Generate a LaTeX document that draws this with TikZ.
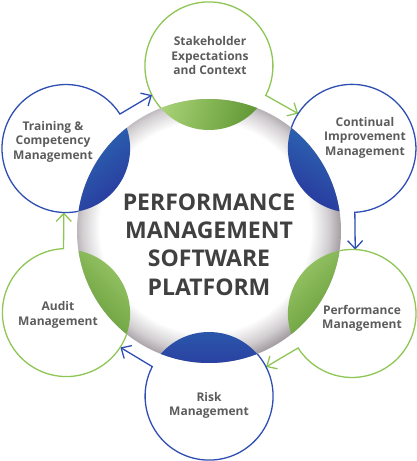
\documentclass[tikz,border=0pt]{standalone}
\usepackage{fontspec}
\setmainfont{Open Sans}
\usetikzlibrary{arrows.meta}
\definecolor{grnline}{RGB}{141,198,85}
\definecolor{bluline}{RGB}{45,78,178}
\definecolor{grnlight}{RGB}{170,212,120}
\definecolor{grndark}{RGB}{92,148,48}
\definecolor{blulight}{RGB}{44,110,180}
\definecolor{bludark}{RGB}{40,42,152}
\definecolor{rimgray}{RGB}{166,159,164}
\definecolor{sattext}{RGB}{92,92,92}
\definecolor{maintext}{RGB}{64,64,64}
\pgfdeclareradialshading{rimshade}{\pgfpoint{-1.2bp}{1.2bp}}{color(0bp)=(white); color(20bp)=(white); color(23.3bp)=(rimgray!50); color(25.5bp)=(rimgray); color(50bp)=(rimgray)}
\begin{document}
\begin{tikzpicture}[x=1pt,y=1pt,line width=1.3pt,
  sat/.style={circle,minimum size=128pt,inner sep=0pt,outer sep=0pt},
  sattxt/.style={align=center,font=\fontsize{12}{14.5}\selectfont\bfseries,text=sattext,inner sep=0pt},
  maintxt/.style={align=center,font=\fontsize{23}{28.4}\selectfont\bfseries,text=maintext,inner sep=0pt},
  tail/.style={line join=miter,-{Straight Barb[length=8pt,width=15pt]}}]
\useasboundingbox (-209,-230) rectangle (208,231);
% satellite anchors
\foreach \n/\a in {1/90,2/30,3/-30,4/-90,5/-150,6/150}
  \node[sat] (s\n) at (\a:165) {};
% core circle
\shade[shading=rimshade] (0,0) circle (132);
\node[circle,minimum size=264pt,inner sep=0pt,outer sep=0pt] (core) at (0,0) {};
% lenses
\foreach \n/\a/\c/\sa in {1/90/grn/75,2/30/blu/-30,3/-30/grn/45,4/-90/blu/0,5/-150/grn/-45,6/150/blu/40}
  {
  \begin{scope}
    \clip (0,0) circle (132);
    \clip (s\n) circle (64);
    \shade[left color=\c light,right color=\c dark,shading angle=\sa] (\a:116.5) circle (50);
  \end{scope}
  }
% outlines with tails
\foreach \n/\m/\a/\c in {1/2/90/grnline,2/3/30/bluline,3/4/-30/grnline,4/5/-90/bluline,5/6/-150/grnline,6/1/150/bluline}
  {
  \pgfmathsetmacro{\sa}{\a+131.1}
  \pgfmathsetmacro{\ea}{\a-117.4}
  \pgfmathsetmacro{\ta}{\a+57.9}
  \draw[\c,tail] (s\n.\sa) arc[start angle=\sa,end angle=\ea,radius=64] -- (s\m.\ta);
  }
% texts
\node[sattxt] (t1) at (1,175) {Stakeholder\\Expectations\\and Context};
\node[sattxt] (t2) at (156,93.5) {Continual\\Improvement\\Management};
\node[sattxt] (t3) at (153,-87.3) {Performance\\Management};
\node[sattxt] (t4) at (0,-174.3) {Risk\\Management};
\node[sattxt] (t5) at (-151,-84) {Audit\\Management};
\node[sattxt] (t6) at (-156,89.5) {Training \&\\Competency\\Management};
\node[maintxt] (title) at (0,-13.5) {PERFORMANCE\\MANAGEMENT\\SOFTWARE\\PLATFORM};
\end{tikzpicture}
\end{document}
